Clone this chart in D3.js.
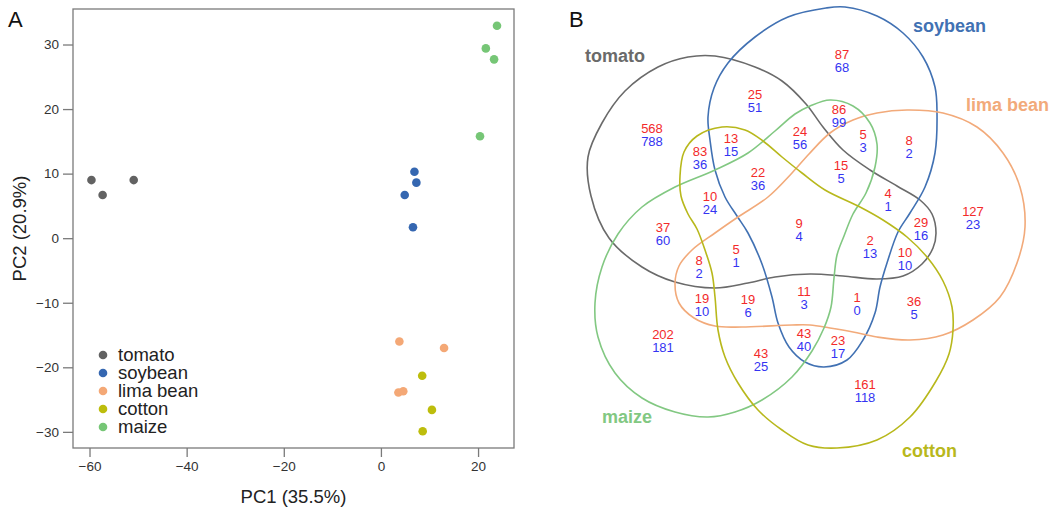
<!DOCTYPE html>
<html>
<head>
<meta charset="utf-8">
<script src="https://cdn.jsdelivr.net/npm/d3@7"></script>
<style>
  body { margin: 0; background: #fff; }
  svg { display: block; font-family: "Liberation Sans", Arial, sans-serif; }
</style>
</head>
<body>
<svg id="fig" width="1062" height="511"></svg>
<script>
// ---- data: panel A (PCA) ----
const groups = ['tomato', 'soybean', 'lima bean', 'cotton', 'maize']
const pcaGroup = ['tomato', 'tomato', 'tomato',
  'soybean', 'soybean', 'soybean', 'soybean',
  'lima bean', 'lima bean', 'lima bean', 'lima bean',
  'cotton', 'cotton', 'cotton',
  'maize', 'maize', 'maize', 'maize']
const pcaPC1 = [-59.6, -57.3, -50.9,
  6.9, 7.3, 4.9, 6.6,
  3.8, 13.0, 3.6, 4.6,
  8.5, 10.5, 8.6,
  23.9, 21.6, 23.3, 20.4]
const pcaPC2 = [9.0, 6.7, 9.0,
  10.3, 8.6, 6.7, 1.7,
  -16.0, -17.0, -23.9, -23.7,
  -21.3, -26.6, -29.9,
  32.9, 29.4, 27.7, 15.8]
const xTicks = [-60, -40, -20, 0, 20]
const yTicks = [-30, -20, -10, 0, 10, 20, 30]

// ---- data: panel B (Venn counts, red = top, blue = bottom) ----
const vennSets = ['tomato', 'soybean', 'lima bean', 'maize', 'cotton']
const vennRed = [568, 87, 127, 161, 202, 25, 86, 83, 13, 24, 5, 8, 22, 15, 10, 4,
  37, 9, 29, 2, 10, 5, 8, 11, 1, 36, 19, 19, 43, 23, 43]
const vennBlue = [788, 68, 23, 118, 181, 51, 99, 36, 15, 56, 3, 2, 36, 5, 24, 1,
  60, 4, 16, 13, 10, 1, 2, 3, 0, 5, 10, 6, 40, 17, 25]

// ---- layout (diagram geometry, not data) ----
const vennLabelPos = [[652, 128], [842, 54], [973, 211], [865, 384], [663, 334],
  [755, 94], [839, 109], [700, 151], [731, 138], [800, 131], [863, 134], [909, 140],
  [758, 172], [841, 165], [710, 196], [888, 193], [663, 227], [799, 223], [921, 222],
  [870, 240], [905, 252], [736, 249], [699, 260], [804, 291], [857, 297], [914, 301],
  [702, 298], [748, 299], [804, 333], [838, 340], [761, 353]]

const vennOutline = {
  'tomato': [[715, 56], [755, 67], [782, 81], [806, 104], [823, 127], [843, 150], [870, 170],
    [897, 186], [920, 200], [932, 214], [936, 233], [933, 248], [922, 264], [903, 276],
    [877, 279], [843, 276], [810, 274], [775, 277], [748, 283], [715, 288], [675, 282],
    [642, 267], [609, 238], [591, 196], [588, 157], [602, 123], [625, 91], [658, 67], [688, 57]],
  'soybean': [[826, 8], [845, 7], [877, 16], [903, 33], [923, 57], [935, 87], [937, 113],
    [935, 153], [925, 187], [910, 213], [898, 232], [887, 263], [880, 287], [875, 313],
    [863, 340], [847, 360], [824, 367], [805, 362], [789, 347], [778, 323], [772, 297],
    [762, 264], [748, 233], [737, 216], [725, 197], [715, 170], [710, 140], [708, 117],
    [714, 88], [728, 63], [755, 37], [788, 17]],
  'lima bean': [[907, 110], [943, 113], [977, 127], [1003, 153], [1020, 187], [1025, 227],
    [1017, 263], [1000, 297], [973, 320], [943, 335], [910, 340], [877, 337], [853, 332],
    [830, 328], [810, 325], [792, 325], [742, 327], [715, 326], [694, 318], [679, 303],
    [675, 284], [679, 266], [692, 250], [715, 233], [738, 217], [768, 197], [792, 173],
    [809, 154], [830, 133], [853, 120], [877, 113]],
  'maize': [[830, 100], [853, 106], [870, 123], [877, 144], [875, 167], [866, 193],
    [853, 214], [844, 236], [837, 255], [834, 278], [831, 307], [824, 328], [812, 351],
    [792, 377], [762, 400], [735, 412], [708, 417], [675, 412], [642, 398], [615, 373],
    [598, 337], [595, 303], [602, 267], [618, 234], [642, 207], [675, 187], [715, 170],
    [748, 153], [775, 131], [795, 114], [810, 106]],
  'cotton': [[722, 127], [745, 130], [763, 141], [782, 157], [802, 173], [825, 190],
    [860, 207], [883, 220], [907, 237], [927, 257], [943, 281], [952, 307], [953, 330],
    [949, 354], [936, 381], [910, 417], [877, 440], [837, 448], [808, 445], [782, 430],
    [758, 410], [738, 383], [725, 357], [718, 330], [715, 297], [712, 273], [705, 250],
    [697, 229], [688, 214], [681, 196], [680, 176], [684, 152], [697, 136]]
}
const vennNamePos = {
  'tomato': [585, 62], 'soybean': [913, 32], 'lima bean': [966, 111],
  'maize': [602, 423], 'cotton': [902, 457]
}

const pointColor = {
  'tomato': '#626262', 'soybean': '#3567b1', 'lima bean': '#f4a876',
  'cotton': '#bdbd0c', 'maize': '#76c676'
}
const vennColor = {
  'tomato': '#6a6a6a', 'soybean': '#4171b3', 'lima bean': '#f2aa7a',
  'maize': '#82c882', 'cotton': '#b8b81c'
}

const svg = d3.select('#fig')

// ================= panel A =================
const xScale = d3.scaleLinear().domain([-63.4, 27.4]).range([73, 514])
const yScale = d3.scaleLinear().domain([-32.5, 35.5]).range([448, 9])

const panelA = svg.append('g')

panelA.append('rect')
  .attr('x', xScale(-63.4)).attr('y', yScale(35.5))
  .attr('width', xScale(27.4) - xScale(-63.4))
  .attr('height', yScale(-32.5) - yScale(35.5))
  .attr('fill', 'none').attr('stroke', '#7a7a7a').attr('stroke-width', 1.3)

const xAxisG = panelA.append('g')
  .attr('transform', `translate(0,${yScale(-32.5)})`)
  .call(d3.axisBottom(xScale).tickValues(xTicks).tickSize(9).tickPadding(4))
const yAxisG = panelA.append('g')
  .attr('transform', `translate(${xScale(-63.4)},0)`)
  .call(d3.axisLeft(yScale).tickValues(yTicks).tickSize(10).tickPadding(4))

;[xAxisG, yAxisG].forEach(g => {
  g.select('.domain').remove()
  g.selectAll('.tick line').attr('stroke', '#7a7a7a').attr('stroke-width', 1.3)
  g.selectAll('.tick text')
    .attr('fill', '#333')
    .attr('font-size', '13.5px')
    .attr('font-family', '"Liberation Sans", Arial, sans-serif')
})

panelA.selectAll('.pt')
  .data(pcaPC1.map((v, i) => ({ pc1: v, pc2: pcaPC2[i], group: pcaGroup[i] })))
  .enter()
  .append('circle')
  .attr('class', 'pt')
  .attr('cx', d => xScale(d.pc1))
  .attr('cy', d => yScale(d.pc2))
  .attr('r', 4.3)
  .attr('fill', d => pointColor[d.group])

// legend
const legend = panelA.append('g').attr('transform', 'translate(103,355)')
groups.forEach((g, i) => {
  legend.append('circle')
    .attr('cx', 0).attr('cy', i * 18).attr('r', 4.3)
    .attr('fill', pointColor[g])
  legend.append('text')
    .attr('x', 15).attr('y', i * 18).attr('dy', '0.35em')
    .attr('font-size', '18.5px').attr('fill', '#222')
    .text(g)
})

panelA.append('text')
  .attr('x', (xScale(-63.4) + xScale(27.4)) / 2).attr('y', 503)
  .attr('text-anchor', 'middle').attr('font-size', '18.5px').attr('fill', '#222')
  .text('PC1 (35.5%)')
panelA.append('text')
  .attr('transform', `translate(26,${(yScale(-32.5) + yScale(35.5)) / 2}) rotate(-90)`)
  .attr('text-anchor', 'middle').attr('font-size', '18.5px').attr('fill', '#222')
  .text('PC2 (20.9%)')

svg.append('text').attr('x', 8).attr('y', 27)
  .attr('font-size', '22px').attr('fill', '#111').text('A')

// ================= panel B =================
const xv = d3.scaleLinear().domain([560, 1062]).range([560, 1062])
const yv = d3.scaleLinear().domain([0, 511]).range([0, 511])

svg.append('text').attr('x', 569).attr('y', 27)
  .attr('font-size', '22px').attr('fill', '#111').text('B')

const outline = d3.line()
  .x(d => xv(d[0]))
  .y(d => yv(d[1]))
  .curve(d3.curveCatmullRomClosed.alpha(0.5))

const panelB = svg.append('g')

panelB.selectAll('.set')
  .data(vennSets)
  .enter()
  .append('path')
  .attr('class', 'set')
  .attr('d', s => outline(vennOutline[s]))
  .attr('fill', 'none')
  .attr('stroke', s => vennColor[s])
  .attr('stroke-width', 1.6)

panelB.selectAll('.setname')
  .data(vennSets)
  .enter()
  .append('text')
  .attr('class', 'setname')
  .attr('x', s => xv(vennNamePos[s][0]))
  .attr('y', s => yv(vennNamePos[s][1]))
  .attr('font-size', '18px')
  .attr('font-weight', 'bold')
  .attr('fill', s => vennColor[s])
  .text(s => s)

const counts = vennRed.map((r, i) => ({ red: r, blue: vennBlue[i], pos: vennLabelPos[i] }))

panelB.selectAll('.cRed')
  .data(counts)
  .enter()
  .append('text')
  .attr('class', 'cRed')
  .attr('x', d => xv(d.pos[0]))
  .attr('y', d => yv(d.pos[1]))
  .attr('dy', '0.35em')
  .attr('text-anchor', 'middle')
  .attr('font-size', '13px')
  .attr('fill', '#f32a2a')
  .text(d => d.red)

panelB.selectAll('.cBlue')
  .data(counts)
  .enter()
  .append('text')
  .attr('class', 'cBlue')
  .attr('x', d => xv(d.pos[0]))
  .attr('y', d => yv(d.pos[1] + 13.5))
  .attr('dy', '0.35em')
  .attr('text-anchor', 'middle')
  .attr('font-size', '13px')
  .attr('fill', '#3434f2')
  .text(d => d.blue)
</script>
</body>
</html>
